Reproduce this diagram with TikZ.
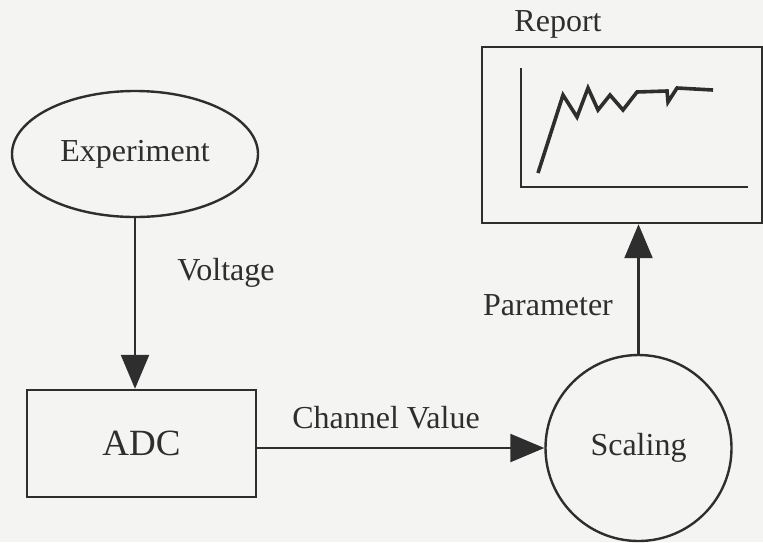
\documentclass[tikz,border=0pt]{standalone}
\usepackage{fontspec}
\setmainfont{Liberation Serif}
\usetikzlibrary{shapes.geometric,arrows.meta}
\definecolor{ink}{HTML}{2E2E2E}
\definecolor{paper}{HTML}{F4F4F3}
\begin{document}
\begin{tikzpicture}[
  x=0.5pt, y=-0.5pt,
  every node/.style={
    text=ink,
    font=\fontsize{16}{18}\selectfont,
    inner sep=0pt
  },
  block/.style={draw=ink, line width=1.2pt},
  flow/.style={draw=ink, line width=1.2pt, -{Triangle[length=17pt,width=14pt]}}
]
\fill[paper] (0,0) rectangle (763,542);
\useasboundingbox (0,0) rectangle (763,542);

\node (exp) [block, ellipse, minimum width=123pt, minimum height=63pt] at (135,154) {Experiment};
\node (adc) [block, rectangle, minimum width=114.5pt, minimum height=53.5pt] at (141.5,443.5) {\fontsize{18.5}{20}\selectfont ADC};
\node (scal) [block, circle, minimum size=93pt] at (638.5,448) {Scaling};
\node (rep) [block, rectangle, minimum width=140pt, minimum height=88pt] at (622,135) {};
\node (replbl) at (558,24) {Report};

\node (volt) at (226,273) {Voltage};
\node (chan) at (386,418) {Channel Value};
\node (par) at (548,305) {Parameter};

% chart inside the report
\draw[ink, line width=1.3pt] (521,68) -- (521,187) -- (748,187);
\draw[ink, line width=1.8pt, line join=miter] (538,173) -- (563,95) -- (577,117) -- (588,88)
  -- (598,110) -- (610,95) -- (623,110) -- (637,92) -- (667,91) -- (668,102)
  -- (677,88) -- (713,90);

\draw[flow] (exp.south) -- (exp.south |- adc.north);
\draw[flow] (adc.east |- scal.west) -- (scal.west);
\draw[flow] (scal.north) -- (scal.north |- rep.south);
\end{tikzpicture}
\end{document}
